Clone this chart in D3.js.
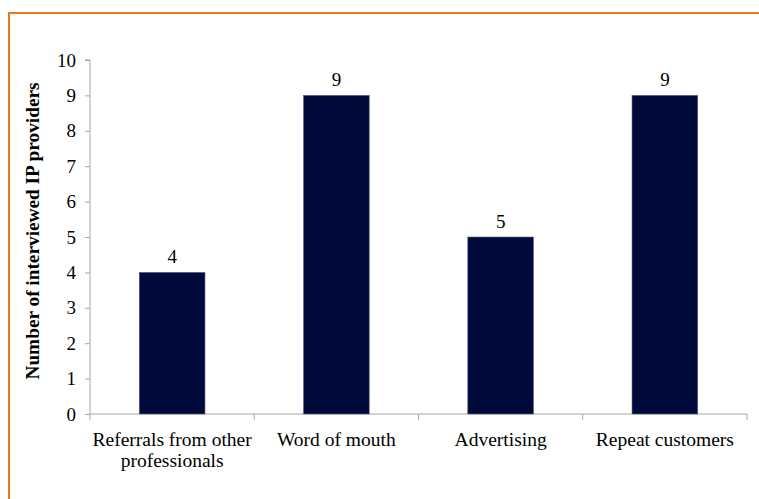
<!DOCTYPE html>
<html>
<head>
<meta charset="utf-8">
<script src="https://cdn.jsdelivr.net/npm/d3@7"></script>
<style>
  html, body { margin: 0; padding: 0; background: #fff; }
  svg { display: block; }
</style>
</head>
<body>
<svg id="chart" width="759" height="499"></svg>
<script>
// How clients find IP providers
const categories = [["Referrals from other", "professionals"], ["Word of mouth"], ["Advertising"], ["Repeat customers"]];
const counts = [4, 9, 5, 9];
const yTicks = [0, 1, 2, 3, 4, 5, 6, 7, 8, 9, 10];
const yTitle = "Number of interviewed IP providers";

const svg = d3.select("#chart");
const W = 759, H = 499;
const font = "'Liberation Serif', 'DejaVu Serif', serif";
const margin = { left: 90, right: 12, top: 60, bottom: 85 };
const plotW = W - margin.left - margin.right;
const plotH = H - margin.top - margin.bottom;

// Frame (left and top edges)
svg.append("path")
  .attr("d", `M9,${H} L9,13 L${W},13`)
  .attr("fill", "none")
  .attr("stroke", "#E8791F")
  .attr("stroke-width", 2);

const g = svg.append("g").attr("transform", `translate(${margin.left},${margin.top})`);

const x = d3.scaleBand().domain(d3.range(categories.length)).range([0, plotW]).paddingInner(0.6).paddingOuter(0.3);
const xOuter = d3.scaleBand().domain(d3.range(categories.length)).range([0, plotW]);
const y = d3.scaleLinear().domain([0, 10]).range([plotH, 0]);

// Y axis
const yAxis = g.append("g")
  .call(d3.axisLeft(y).tickValues(yTicks).tickSize(5).tickPadding(9).tickFormat(d3.format("d")));
yAxis.select(".domain").attr("stroke", "#a6a6a6").attr("d", `M-5,${y(10)}H0V${y(0)}`);
yAxis.selectAll(".tick line").attr("stroke", "#a6a6a6");
yAxis.selectAll(".tick text").attr("font-family", font).attr("font-size", 19).attr("fill", "#000");

// X axis line with category separators
g.append("line").attr("x1", 0).attr("x2", plotW).attr("y1", plotH).attr("y2", plotH)
  .attr("stroke", "#a6a6a6");
const bounds = d3.range(categories.length).map(i => xOuter(i)).concat([plotW]);
g.selectAll(".sep").data(bounds).join("line")
  .attr("x1", d => d).attr("x2", d => d)
  .attr("y1", plotH).attr("y2", plotH + 6)
  .attr("stroke", "#a6a6a6");

// Bars
g.selectAll(".bar").data(counts).join("rect")
  .attr("x", (d, i) => x(i))
  .attr("y", d => y(d))
  .attr("width", x.bandwidth())
  .attr("height", d => plotH - y(d))
  .attr("fill", "#000B3C")
  .attr("stroke", "#5a6080")
  .attr("stroke-width", 0.6);

// Value labels
g.selectAll(".val").data(counts).join("text")
  .attr("x", (d, i) => x(i) + x.bandwidth() / 2)
  .attr("y", d => y(d) - 9)
  .attr("text-anchor", "middle")
  .attr("font-family", font).attr("font-size", 19)
  .text(d => d);

// Category labels
const cl = g.selectAll(".cat").data(categories).join("text")
  .attr("x", (d, i) => xOuter(i) + xOuter.bandwidth() / 2)
  .attr("y", plotH + 32)
  .attr("text-anchor", "middle")
  .attr("font-family", font).attr("font-size", 19.5);
cl.selectAll("tspan").data(d => d).join("tspan")
  .attr("x", function () { return this.parentNode.getAttribute("x"); })
  .attr("dy", (d, i) => i === 0 ? 0 : 21)
  .text(d => d);

// Y title
svg.append("text")
  .attr("transform", `translate(39,231) rotate(-90)`)
  .attr("text-anchor", "middle")
  .attr("font-family", font).attr("font-size", 19.3).attr("font-weight", "bold")
  .text(yTitle);
</script>
</body>
</html>
